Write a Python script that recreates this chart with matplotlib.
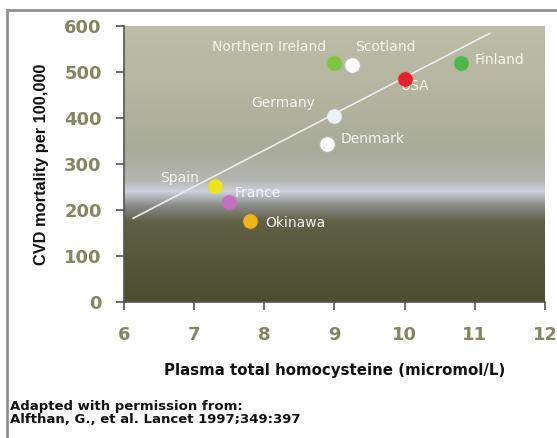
import numpy as np
import matplotlib
matplotlib.use("Agg")
import matplotlib.pyplot as plt
from matplotlib.colors import LinearSegmentedColormap
from matplotlib.lines import Line2D

# data
countries = ["Northern Ireland", "Scotland", "Finland", "USA", "Germany",
             "Denmark", "Spain", "France", "Okinawa"]
homocysteine = [9.0, 9.25, 10.8, 10.0, 9.0, 8.9, 7.3, 7.5, 7.8]
mortality = [520, 515, 520, 485, 405, 343, 253, 217, 177]
colors = ["#7cc63e", "#ffffff", "#4cb848", "#e3222a", "#eef0f8",
          "#ffffff", "#ece51e", "#c46ec4", "#f2b21c"]

# label anchor points (x, y, alignment)
label_x = [8.88, 9.29, 11.0, 9.94, 7.81, 9.09, 6.52, 7.58, 8.02]
label_y = [555, 555, 525, 470, 433, 354, 269, 238, 172]
label_ha = ["right", "left", "left", "left", "left", "left", "left", "left", "left"]

# regression line end points
fit_x = [6.13, 11.21]
fit_y = [182, 584]

x_ticks = [6, 7, 8, 9, 10, 11, 12]
y_ticks = [0, 100, 200, 300, 400, 500, 600]

fig = plt.figure(figsize=(5.57, 4.38), dpi=100)
ax = fig.add_axes([124 / 557, 1 - 302 / 438, 421 / 557, 276 / 438])

# background gradient
grad_cmap = LinearSegmentedColormap.from_list("bg", [
    (0.00, "#4d4d30"),
    (0.15, "#55563a"),
    (0.29, "#5f6045"),
    (0.35, "#8a8c88"),
    (0.40, "#cdd1dc"),
    (0.44, "#b4b6b2"),
    (0.55, "#a9ab9a"),
    (0.80, "#b6b6a2"),
    (1.00, "#bcbca7"),
])
grad = np.linspace(0, 1, 256).reshape(-1, 1)
ax.imshow(grad, cmap=grad_cmap, origin="lower", aspect="auto",
          extent=[6, 12, 0, 600], zorder=0)

ax.plot(fit_x, fit_y, color="#ececea", lw=1.2, zorder=2)

for x, y, c in zip(homocysteine, mortality, colors):
    ax.scatter(x, y, s=150, color=c, alpha=0.12, lw=0, zorder=3)
    ax.scatter(x, y, s=110, color=c, lw=0, zorder=4)

for name, x, y, ha in zip(countries, label_x, label_y, label_ha):
    ax.text(x, y, name, color="#f4f4f0", fontsize=10, ha=ha, va="center",
            family="DejaVu Sans", zorder=2.5)

ax.set_xlim(6, 12)
ax.set_ylim(0, 600)
ax.set_xticks(x_ticks)
ax.set_yticks(y_ticks)
ax.tick_params(axis="both", colors="#555555", length=6, width=1.2,
               labelcolor="#858560", labelsize=13)
ax.tick_params(axis="y", pad=10)
ax.tick_params(axis="x", pad=11)
for lab in ax.get_xticklabels() + ax.get_yticklabels():
    lab.set_fontweight("bold")

for side in ["top", "right"]:
    ax.spines[side].set_visible(False)
for side in ["left", "bottom"]:
    ax.spines[side].set_color("#555555")
    ax.spines[side].set_linewidth(1.2)

ax.set_xlabel("Plasma total homocysteine (micromol/L)", fontsize=10.8,
              fontweight="bold", color="#111111", labelpad=14)
ax.set_ylabel("CVD mortality per 100,000", fontsize=11.8, fontweight="bold",
              family="Liberation Sans", color="#111111", labelpad=11)

fig.text(10 / 557, 1 - 413 / 438, "Adapted with permission from:\nAlfthan, G., et al. Lancet 1997;349:397",
         fontsize=9.5, fontweight="bold", family="DejaVu Sans",
         color="#111111", va="center", ha="left", linespacing=1.0)

# outer frame lines (top and left)
fig.add_artist(Line2D([7 / 557, 1], [1 - 10 / 438, 1 - 10 / 438],
                      transform=fig.transFigure, color="#909090", lw=2))
fig.add_artist(Line2D([7 / 557, 7 / 557], [1 - 10 / 438, 0],
                      transform=fig.transFigure, color="#909090", lw=2))

fig.savefig("out.png", dpi=100)
